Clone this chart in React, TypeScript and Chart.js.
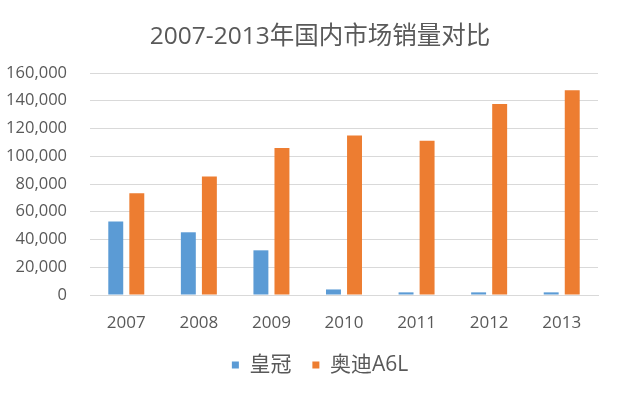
import React, { useEffect, useRef } from "react";
import { Chart, registerables } from "chart.js";

Chart.register(...registerables);

const categories = ["2007", "2008", "2009", "2010", "2011", "2012", "2013"];
const crownSales = [53000, 45200, 32200, 4000, 1900, 1900, 1900];
const audiA6LSales = [73400, 85400, 105900, 115000, 111200, 137700, 147500];
const seriesNames = ["皇冠", "奥迪A6L"];
const titleText = "2007-2013年国内市场销量对比";

const FONT = "'Open Sans', 'Noto Sans CJK SC', sans-serif";
const TEXT = "#595959";

export default function App() {
  const ref = useRef<HTMLCanvasElement | null>(null);
  useEffect(() => {
    if (!ref.current) return;
    const chart = new Chart(ref.current, {
      type: "bar",
      data: {
        labels: categories,
        datasets: [
          {
            label: seriesNames[0],
            data: crownSales,
            backgroundColor: "#5B9BD5",
            categoryPercentage: 0.58,
            barPercentage: 0.71,
          },
          {
            label: seriesNames[1],
            data: audiA6LSales,
            backgroundColor: "#ED7D31",
            categoryPercentage: 0.58,
            barPercentage: 0.71,
          },
        ],
      },
      options: {
        animation: false,
        responsive: false,
        layout: { padding: { left: 0, right: 0, top: 0, bottom: 13.5 } },
        plugins: {
          title: {
            display: true,
            text: titleText,
            color: TEXT,
            font: { family: FONT, size: 24.5, weight: "normal" },
            padding: { top: 22, bottom: 21.6 },
          },
          legend: {
            position: "bottom",
            labels: {
              color: TEXT,
              font: { family: FONT, size: 21 },
              boxWidth: 7,
              boxHeight: 7,
              padding: 21,
            },
          },
          tooltip: { enabled: false },
        },
        scales: {
          x: {
            grid: { display: false, drawTicks: false },
            border: { display: true, color: "#D9D9D9" },
            ticks: { color: TEXT, font: { family: FONT, size: 17 }, padding: 18 },
            afterFit: (scale: any) => {
              scale.height = 38.5;
            },
          },
          y: {
            min: 0,
            max: 160000,
            grid: { color: "#D9D9D9", drawTicks: false },
            border: { display: false },
            ticks: {
              stepSize: 20000,
              color: TEXT,
              font: { family: FONT, size: 16.5 },
              padding: 23,
              callback: (v: any) => Number(v).toLocaleString("en-US"),
            },
            afterFit: (scale: any) => {
              scale.width = 90;
            },
          },
          yRight: {
            type: "linear",
            position: "right",
            display: true,
            grid: { display: false, drawTicks: false },
            border: { display: false },
            ticks: { display: false },
            afterFit: (scale: any) => {
              scale.width = 42;
            },
          },
        },
      },
    });
    return () => chart.destroy();
  }, []);
  return (
    <div style={{ position: "fixed", left: 0, top: 0, width: 640, height: 399, background: "#fff" }}>
      <canvas ref={ref} width={640} height={399} style={{ display: "block" }} />
    </div>
  );
}
